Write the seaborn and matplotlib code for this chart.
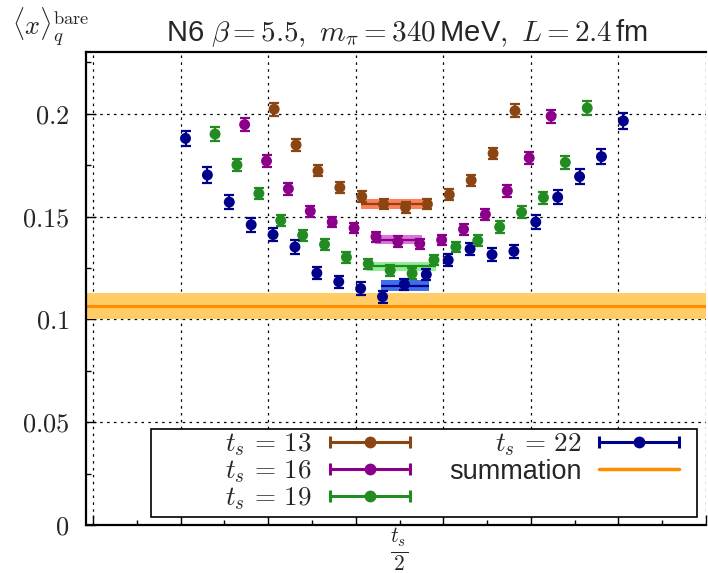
import numpy as np
import pandas as pd
import matplotlib
matplotlib.use("Agg")
import matplotlib.pyplot as plt
import seaborn as sns
from matplotlib.lines import Line2D
from matplotlib.patches import Rectangle
from matplotlib.legend_handler import HandlerBase
from matplotlib.ticker import FixedLocator

# ---- ratio data: <x>_q^bare vs tau for each source-sink separation ----
ts_values = [13, 16, 19, 22]

ratio_13 = [0.2022, 0.1848, 0.1722, 0.1641, 0.1597, 0.1560, 0.1544, 0.1560,
            0.1606, 0.1676, 0.1807, 0.2014]
err_13 = [0.0031, 0.0029, 0.0027, 0.0026, 0.0025, 0.0025, 0.0025, 0.0025,
          0.0026, 0.0027, 0.0028, 0.0031]

ratio_16 = [0.1947, 0.1770, 0.1635, 0.1526, 0.1473, 0.1444, 0.1402, 0.1378,
            0.1368, 0.1386, 0.1438, 0.1510, 0.1625, 0.1785, 0.1988]
err_16 = [0.0032, 0.0030, 0.0028, 0.0027, 0.0026, 0.0026, 0.0025, 0.0025,
          0.0025, 0.0025, 0.0026, 0.0026, 0.0028, 0.0030, 0.0032]

ratio_19 = [0.1901, 0.1751, 0.1612, 0.1481, 0.1409, 0.1364, 0.1302, 0.1270,
            0.1238, 0.1223, 0.1289, 0.1352, 0.1383, 0.1449, 0.1521, 0.1592,
            0.1763, 0.2028]
err_19 = [0.0033, 0.0031, 0.0029, 0.0028, 0.0027, 0.0026, 0.0026, 0.0025,
          0.0025, 0.0025, 0.0025, 0.0026, 0.0026, 0.0027, 0.0028, 0.0029,
          0.0031, 0.0033]

ratio_22 = [0.1880, 0.1702, 0.1570, 0.1460, 0.1412, 0.1352, 0.1225, 0.1183,
            0.1150, 0.1110, 0.1170, 0.1218, 0.1288, 0.1342, 0.1315, 0.1331,
            0.1473, 0.1594, 0.1694, 0.1791, 0.1965]
err_22 = [0.0038, 0.0037, 0.0035, 0.0033, 0.0033, 0.0032, 0.0031, 0.0030,
          0.0030, 0.0029, 0.0028, 0.0029, 0.0030, 0.0030, 0.0031, 0.0032,
          0.0033, 0.0034, 0.0035, 0.0036, 0.0038]

# plateau fits: (value, error, first tau, last tau)
plateau_13 = (0.1561, 0.0025, 5, 8)
plateau_16 = (0.1388, 0.0024, 7, 9)
plateau_19 = (0.1257, 0.0022, 8, 11)
plateau_22 = (0.1163, 0.0027, 10, 12)

# summation method result
summation_value = 0.1065
summation_error = 0.0062

y_tick_values = [0, 0.05, 0.1, 0.15, 0.2]
y_tick_labels = ["$0$", "$0.05$", "$0.1$", "$0.15$", "$0.2$"]
legend_labels = [r"$t_s\,=\,13$", r"$t_s\,=\,16$", r"$t_s\,=\,19$",
                 r"$t_s\,=\,22$", "summation"]

# ---- styling ----
point_colors = ["#8b4513", "#8b008b", "#228b22", "#00008b"]
band_colors = ["#ff7f5a", "#d877d8", "#92ee92", "#3f6ee8"]
shifts = [-0.225, -0.075, 0.075, 0.225]
summ_line = "#ff8c00"
summ_band = "#ffcc66"

sns.set_theme(style="ticks")
plt.rcParams["font.family"] = ["Liberation Sans", "DejaVu Sans"]
plt.rcParams["mathtext.fontset"] = "cm"

W, H = 708, 573
fig = plt.figure(figsize=(W / 100, H / 100), dpi=100)
ax = fig.add_axes([86 / W, 1 - 525 / H, 620 / W, 473 / H])

ratios = [ratio_13, ratio_16, ratio_19, ratio_22]
errs = [err_13, err_16, err_19, err_22]
plateaus = [plateau_13, plateau_16, plateau_19, plateau_22]

frames = []
for ts, r, e, sh in zip(ts_values, ratios, errs, shifts):
    tau = np.arange(1, ts)
    frames.append(pd.DataFrame({"x": tau - ts / 2 + sh, "ratio": r,
                                "err": e, "ts": ts}))
df = pd.concat(frames, ignore_index=True)

# summation band across the full range
ax.axhspan(summation_value - summation_error, summation_value + summation_error,
           color=summ_band, lw=0, zorder=1)
ax.axhline(summation_value, color=summ_line, lw=2.2, zorder=1.5)

# plateau bands
for ts, (val, er, t0, t1), sh, bc, pc in zip(ts_values, plateaus, shifts,
                                              band_colors, point_colors):
    xa = t0 - ts / 2 + sh - 0.05
    xb = t1 - ts / 2 + sh + 0.1
    ax.fill_between([xa, xb], val - er, val + er, color=bc, lw=0, zorder=2)
    ax.plot([xa, xb], [val, val], color=pc, lw=1.6, solid_capstyle="butt",
            zorder=2.5)

# error bars and points
for ts, pc in zip(ts_values, point_colors):
    d = df[df.ts == ts]
    ax.errorbar(d.x, d.ratio, yerr=d.err, fmt="none", ecolor=pc,
                elinewidth=1.6, capsize=3.5, capthick=1.6, zorder=3)
sns.scatterplot(data=df, x="x", y="ratio", hue="ts",
                palette=dict(zip(ts_values, point_colors)), s=62,
                linewidth=0, legend=False, ax=ax, zorder=4)

# axes
ax.set_xlim(-14.32, 14.0)
ax.set_ylim(0, 0.23)
ax.set_xlabel("")
ax.set_ylabel("")
ax.xaxis.set_major_locator(FixedLocator([-14, -10, -6, -2, 2, 6, 10, 14]))
ax.xaxis.set_minor_locator(FixedLocator([-12, -8, -4, 0, 4, 8, 12]))
ax.set_xticklabels([""] * 8)
ax.set_xticklabels(["", "", "", r"$\frac{t_s}{2}$", "", "", ""], minor=True)
ax.set_yticks(y_tick_values)
ax.set_yticklabels(y_tick_labels)
ax.yaxis.set_minor_locator(FixedLocator([0.025, 0.075, 0.125, 0.175, 0.225]))
ax.tick_params(axis="both", which="major", direction="in", length=7,
               width=1.0, color="black", labelsize=19, pad=6)
ax.tick_params(axis="both", which="minor", direction="in", length=3.5,
               width=1.0, color="black", labelsize=22, pad=0.5)
ax.tick_params(axis="y", which="major", pad=12)

ax.grid(True, which="major", color="black", lw=0.9, ls=(0, (2, 3.5)))
for side in ["left", "bottom", "top"]:
    ax.spines[side].set_linewidth(1.6)
    ax.spines[side].set_color("black")
ax.spines["right"].set_visible(False)


# legend handle: horizontal bar with end caps and a centre dot
class HandlerBar(HandlerBase):
    def create_artists(self, legend, orig_handle, xdescent, ydescent, width,
                       height, fontsize, trans):
        c = orig_handle.get_color()
        y = height / 2 - ydescent
        x0, x1 = -xdescent, -xdescent + width
        line = Line2D([x0, x1], [y, y], color=c, lw=2.2)
        caps = Line2D([x0, x1], [y, y], ls="", marker="|", ms=8, mew=2.2,
                      color=c)
        dot = Line2D([(x0 + x1) / 2], [y], ls="", marker="o", ms=7.5, color=c)
        for a in (line, caps, dot):
            a.set_transform(trans)
        return [line, caps, dot]


# key box
ax.add_patch(Rectangle((65 / 620, 8 / 473), 546 / 620, 88 / 473,
                       transform=ax.transAxes, facecolor="white",
                       edgecolor="black", lw=1.2, zorder=5))

proxies = [Line2D([], [], color=c) for c in point_colors]
summ_handle = Line2D([], [], color=summ_line, lw=2.5)
handles = proxies + [summ_handle]
leg = ax.legend(handles, legend_labels,
                handler_map={p: HandlerBar() for p in proxies},
                ncol=2, markerfirst=False, loc="center right",
                bbox_to_anchor=(679 / W, (H - 472) / H),
                bbox_transform=fig.transFigure,
                borderaxespad=0, borderpad=0, fontsize=19.5,
                handlelength=2.95, handletextpad=0.65, labelspacing=0.02,
                columnspacing=1.45, frameon=False)
leg.set_zorder(6)

fig.text(12 / W, 1 - 5 / H, r"$\langle x\rangle_q^{\rm bare}$",
         ha="left", va="top", fontsize=19)
fig.text(407 / W, 1 - 33 / H,
         r"N6 $\beta = 5.5,\ m_\pi = 340\,$MeV$,\ L = 2.4\,$fm",
         ha="center", va="center", fontsize=21)

fig.savefig("out.png", dpi=100)
